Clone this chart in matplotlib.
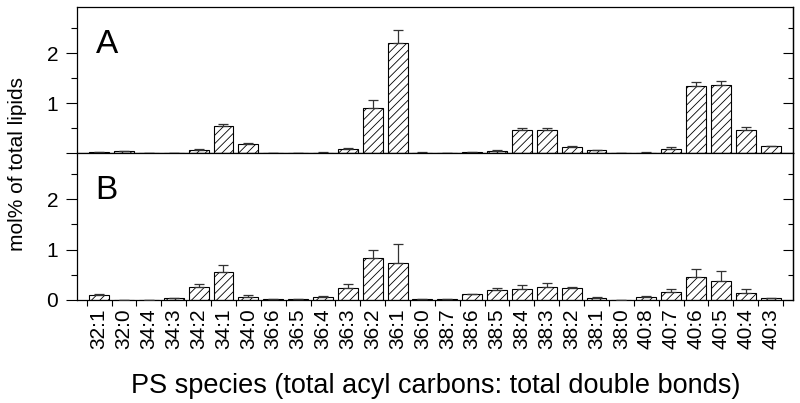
import numpy as np
import matplotlib
matplotlib.use('Agg')
import matplotlib.pyplot as plt

plt.rcParams['font.family'] = ['Liberation Sans', 'DejaVu Sans']
plt.rcParams['hatch.linewidth'] = 0.6

species = ['32:1', '32:0', '34:4', '34:3', '34:2', '34:1', '34:0',
           '36:6', '36:5', '36:4', '36:3', '36:2', '36:1', '36:0',
           '38:7', '38:6', '38:5', '38:4', '38:3', '38:2', '38:1', '38:0',
           '40:8', '40:7', '40:6', '40:5', '40:4', '40:3']

# panel A
a_vals = [0.015, 0.04, 0, 0, 0.07, 0.55, 0.18,
          0, 0, 0.01, 0.09, 0.91, 2.21, 0.01,
          0, 0.015, 0.05, 0.47, 0.47, 0.12, 0.06, 0,
          0.01, 0.09, 1.34, 1.37, 0.46, 0.14]
a_err = [0.005, 0.01, 0, 0, 0.005, 0.04, 0.03,
         0, 0, 0.003, 0.02, 0.15, 0.26, 0.003,
         0, 0.005, 0.02, 0.04, 0.04, 0.03, 0.01, 0,
         0.003, 0.03, 0.09, 0.07, 0.07, 0.01]

# panel B
b_vals = [0.09, 0.005, 0, 0.03, 0.26, 0.56, 0.06,
          0.02, 0.02, 0.06, 0.24, 0.84, 0.73, 0.01,
          0.01, 0.11, 0.19, 0.22, 0.26, 0.23, 0.04, 0,
          0.06, 0.16, 0.46, 0.38, 0.13, 0.03]
b_err = [0.03, 0, 0, 0.005, 0.05, 0.13, 0.03,
         0.005, 0.005, 0.02, 0.07, 0.16, 0.38, 0.005,
         0.005, 0.01, 0.05, 0.07, 0.07, 0.03, 0.01, 0,
         0.02, 0.05, 0.16, 0.19, 0.08, 0.005]

fig = plt.figure(figsize=(8, 4.03), dpi=100)
ax_a = fig.add_axes([0.09625, 0.6203, 0.895, 0.3623])
ax_b = fig.add_axes([0.09625, 0.2556, 0.895, 0.3647])

x = np.arange(len(species))

for ax, vals, err, letter in [(ax_a, a_vals, a_err, 'A'), (ax_b, b_vals, b_err, 'B')]:
    ax.bar(x, vals, width=0.8, color='white', edgecolor='black', linewidth=0.8,
           hatch='////', zorder=2)
    ax.errorbar(x, vals, yerr=[np.zeros(len(err)), err], fmt='none',
                ecolor='#333333', elinewidth=0.9, capsize=3.6, capthick=0.9, zorder=3)
    ax.set_xlim(-0.89, 27.9)
    ax.set_ylim(0, 2.92)
    ax.set_yticks([0, 1, 2])
    ax.set_yticks([0.5, 1.5, 2.5], minor=True)
    ax.set_xticks(x)
    ax.set_xticks(np.arange(-0.5, 28, 1), minor=True)
    ax.tick_params(axis='x', which='major', length=0, pad=6, labelsize=15)
    ax.tick_params(axis='x', which='minor', length=4.5, width=0.8, direction='out')
    ax.tick_params(axis='y', which='major', length=8, width=0.8, direction='out',
                   pad=5.5, labelsize=15)
    ax.tick_params(axis='y', which='minor', length=4, width=0.8, direction='out')
    for s in ax.spines.values():
        s.set_linewidth(0.9)
    sec = ax.secondary_yaxis('right')
    sec.set_yticks([0, 1, 2])
    sec.set_yticks([0.5, 1.5, 2.5], minor=True)
    sec.tick_params(axis='y', which='major', length=7, width=0.8, direction='in',
                    labelright=False)
    sec.tick_params(axis='y', which='minor', length=3.6, width=0.8, direction='in')
    sec.spines['right'].set_linewidth(0.9)
    ax.text(0.026, 0.685, letter, transform=ax.transAxes, fontsize=24,
            ha='left', va='baseline')

ax_a.set_xticklabels([])
ax_a.set_yticklabels(['', '1', '2'])
ax_b.set_xticklabels(species, rotation=90)
ax_b.set_yticklabels(['0', '1', '2'])

fig.text(0.022, 0.592, 'mol% of total lipids', rotation=90, ha='center', va='center',
         fontsize=15)
fig.text(0.544, 0.043, 'PS species (total acyl carbons: total double bonds)',
         ha='center', va='center', fontsize=19.5)

fig.savefig('out.png', dpi=100)
